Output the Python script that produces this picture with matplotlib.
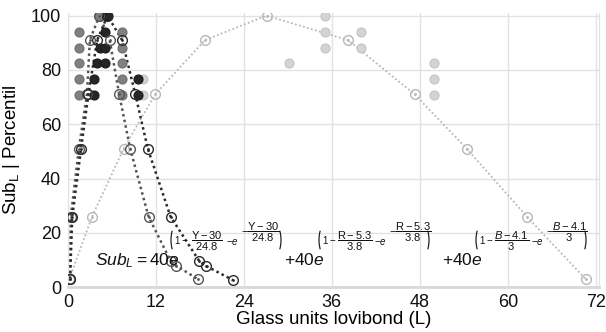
import numpy as np
import matplotlib
matplotlib.use("Agg")
import matplotlib.pyplot as plt
from matplotlib.patches import Arc

plt.rcParams['font.family'] = ['Liberation Sans', 'DejaVu Sans']
plt.rcParams['mathtext.fontset'] = 'custom'
plt.rcParams['mathtext.rm'] = 'Liberation Sans'
plt.rcParams['mathtext.it'] = 'Liberation Sans:italic'
plt.rcParams['mathtext.bf'] = 'Liberation Sans:bold'

# percentile curves (open circles + dotted line)
pct_dark = [3, 26, 51, 71, 91, 100, 91, 71, 51, 26, 9.7, 7.9, 2.6]
x_dark = [0.3, 0.6, 1.8, 2.8, 4.0, 5.4, 7.4, 9.2, 10.9, 14.0, 17.9, 18.8, 22.5]
pct_mid = [3, 26, 51, 71, 91, 100, 91, 71, 51, 26, 9.7, 7.9, 3]
x_mid = [0.3, 0.4, 1.5, 2.6, 3.0, 4.3, 5.7, 7.0, 8.5, 11.0, 14.0, 14.8, 17.7]
pct_light = [3, 26, 51, 71, 91, 100, 91, 71, 51, 26, 3]
x_light = [0.2, 3.3, 7.6, 11.9, 18.7, 27.1, 38.2, 47.3, 54.4, 62.6, 70.6]

# observed samples (filled dots)
obs_dark_x = [5.3, 5.5, 5.1, 4.4, 5.0, 4.0, 5.1, 3.6, 9.6, 3.6, 9.6]
obs_dark_y = [100, 100, 94.1, 88.2, 88.2, 82.4, 82.4, 76.5, 76.5, 70.6, 70.6]
obs_mid_x = [4.3, 1.45, 7.4, 1.45, 7.4, 1.45, 7.4, 1.45, 7.4, 1.45, 7.4]
obs_mid_y = [100, 94.1, 94.1, 88.2, 88.2, 82.4, 82.4, 76.5, 76.5, 70.6, 70.6]
obs_light_x = [35.1, 35.1, 40.0, 35.1, 40.0, 30.1, 50.0, 10.3, 50.0, 10.3, 50.0]
obs_light_y = [100, 94.1, 94.1, 88.2, 88.2, 82.4, 82.4, 76.5, 76.5, 70.6, 70.6]

# equation terms: (prefix, variable, shift, scale)
eq_terms = [(r'Sub_L = 40e', r'\mathrm{Y}', '30', '24.8'),
            (r'+40e', r'\mathrm{R}', '5.3', '3.8'),
            (r'+40e', r'B', '4.1', '3')]

W, H = 606, 332
fig = plt.figure(figsize=(W / 100, H / 100), dpi=100)
ax = fig.add_axes([0.112, 0.135, 0.876, 0.826])

ax.grid(True, color='#e2e2e2', lw=1)
ax.set_axisbelow(True)

ax.plot(obs_light_x, obs_light_y, 'o', ms=6.5, mfc='#d4d4d4', mec='#c4c4c4', mew=0.8, zorder=3)
ax.plot(obs_mid_x, obs_mid_y, 'o', ms=6.5, mfc='#808080', mec='#707070', mew=0.8, zorder=3)
ax.plot(obs_dark_x, obs_dark_y, 'o', ms=6.5, mfc='#262626', mec='#1a1a1a', mew=0.8, zorder=4)

series = [(x_light, pct_light, '#b8b8b8', 1.3),
          (x_mid, pct_mid, '#555555', 1.8),
          (x_dark, pct_dark, '#2a2a2a', 1.8)]
for xs, ys, c, lw in series:
    ax.plot(xs, ys, ls=(0, (1, 1.3)), color=c, lw=lw, zorder=2)
    ax.plot(xs, ys, 'o', ms=7, mfc='none', mec=c, mew=1.0, zorder=5)
    ax.plot(xs, ys, '.', ms=2, color=c, zorder=5)


def ftext(px, py, s, **kw):
    # place text by pixel position (from top-left) of the figure
    fig.text(px / W, 1 - py / H, s, color='#111111', zorder=10, **kw)


def paren(px, py, left=True):
    # thin tall bracket drawn in pixel coordinates
    th = (112, 248) if left else (-68, 68)
    cx = px + 4 if left else px - 4
    fig.add_artist(Arc((cx, H - py), 10, 28, theta1=th[0], theta2=th[1],
                       transform=None, color='#222222', lw=0.9))


# equation, written piece by piece
starts = [95, 284, 442]
parens = [172, 320, 477]
for (pre, var, sh, sc), x0, xp in zip(eq_terms, starts, parens):
    frac = r'\dfrac{%s-%s}{%s}' % (var, sh, sc)
    ftext(x0, 265, '$%s$' % pre, fontsize=12.5, ha='left', va='baseline')
    paren(xp, 240, left=True)
    ftext(xp + 2, 240, r'$1-$', fontsize=7, ha='left', va='center')
    ftext(xp + 35, 241, '$%s$' % frac, fontsize=8, ha='center', va='center')
    ftext(xp + 54, 242, r'$-e$', fontsize=7, ha='left', va='center')
    ftext(xp + 69, 232, '$-%s$' % frac, fontsize=8, ha='left', va='center')
    paren(xp + 108, 240, left=False)

ax.set_xlim(0, 72.4)
ax.set_ylim(0, 101)
ax.set_xticks(np.arange(0, 73, 12))
ax.set_yticks(np.arange(0, 101, 20))
ax.tick_params(length=0, labelsize=13, pad=5, colors='#111111')

ax.spines['top'].set_visible(False)
ax.spines['left'].set_color('#e2e2e2')
ax.spines['right'].set_color('#e2e2e2')
ax.spines['bottom'].set_color('#d8d8d8')
ax.spines['bottom'].set_linewidth(2)

ax.set_xlabel('Glass units lovibond (L)', fontsize=13.5, labelpad=0)
ax.set_ylabel(r'Sub$_\mathregular{L}$ | Percentil', fontsize=13.5, labelpad=6)

fig.savefig('out.png', dpi=100)
